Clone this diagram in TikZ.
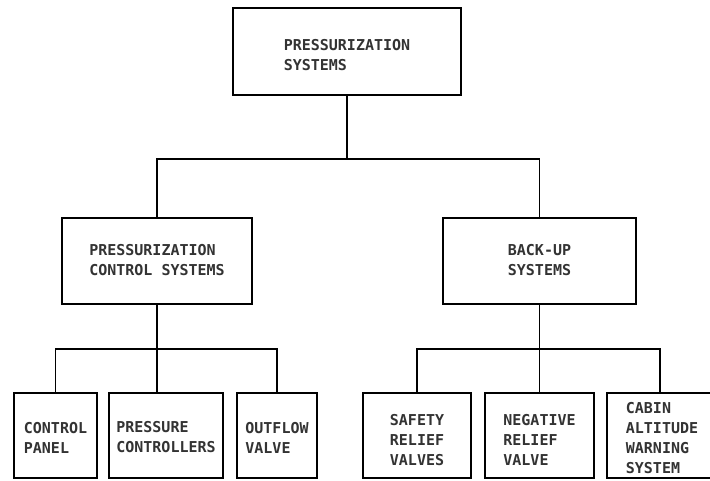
\documentclass[tikz,border=0pt]{standalone}
\usepackage{fontspec}
\newfontfamily\boxfont{DejaVu Sans Mono}
\begin{document}
\begin{tikzpicture}[x=1pt,y=-1pt,
  boxnode/.style={draw=black, line width=1.8pt, inner sep=0pt},
  txt/.style={inner sep=0pt, align=left,
    font=\boxfont\bfseries\fontsize{15}{20}\selectfont, text=black!80},
  conn/.style={draw=black, line width=1.1pt}]
\useasboundingbox (0,0) rectangle (710,480);
\fill[white] (0,0) rectangle (710,480);
% top
\node[boxnode, minimum width=228pt, minimum height=87pt] (top) at (347,51.5) {};
\node[txt] (topt) at ([yshift=-4pt]top.center) {PRESSURIZATION\\SYSTEMS};
% middle
\node[boxnode, minimum width=190pt, minimum height=86pt] (pcs) at (157,261) {};
\node[txt] (pcst) at ([yshift=1pt]pcs.center) {PRESSURIZATION\\CONTROL SYSTEMS};
\node[boxnode, minimum width=193pt, minimum height=86pt] (bus) at (539.5,261) {};
\node[txt] (bust) at ([yshift=1pt]bus.center) {BACK-UP\\SYSTEMS};
% bottom
\node[boxnode, minimum width=83pt, minimum height=85pt] (c1) at (55.5,435.5) {};
\node[txt] (c1t) at ([yshift=-2pt]c1.center) {CONTROL\\PANEL};
\node[boxnode, minimum width=114pt, minimum height=85pt] (c2) at (166,435.5) {};
\node[txt] (c2t) at ([yshift=-2pt]c2.center) {PRESSURE\\CONTROLLERS};
\node[boxnode, minimum width=80pt, minimum height=85pt] (c3) at (277,435.5) {};
\node[txt] (c3t) at ([yshift=-2pt]c3.center) {OUTFLOW\\VALVE};
\node[boxnode, minimum width=108pt, minimum height=85pt] (c4) at (417,435.5) {};
\node[txt] (c4t) at ([yshift=-4.5pt]c4.center) {SAFETY\\RELIEF\\VALVES};
\node[boxnode, minimum width=109pt, minimum height=85pt] (c5) at (539.5,435.5) {};
\node[txt] (c5t) at ([yshift=-4.5pt]c5.center) {NEGATIVE\\RELIEF\\VALVE};
\node[boxnode, minimum width=106pt, minimum height=85pt] (c6) at (660,435.5) {};
\node[txt] (c6t) at ([xshift=2pt,yshift=-2.5pt]c6.center) {CABIN\\ALTITUDE\\WARNING\\SYSTEM};
% junctions
\coordinate (j1) at (347,159);
\coordinate (j2) at (157,349);
\coordinate (j3) at (539.5,349);
% connectors
\draw[conn] (top.south) -- (j1);
\draw[conn] (pcs.north) |- (j1) -| (bus.north);
\draw[conn] (pcs.south) -- (pcs.south |- c2.north);
\draw[conn] (c1.north) |- (j2) -| (c3.north);
\draw[conn] (bus.south) -- (c5.north);
\draw[conn] (c4.north) |- (j3) -| (c6.north);
\end{tikzpicture}
\end{document}
